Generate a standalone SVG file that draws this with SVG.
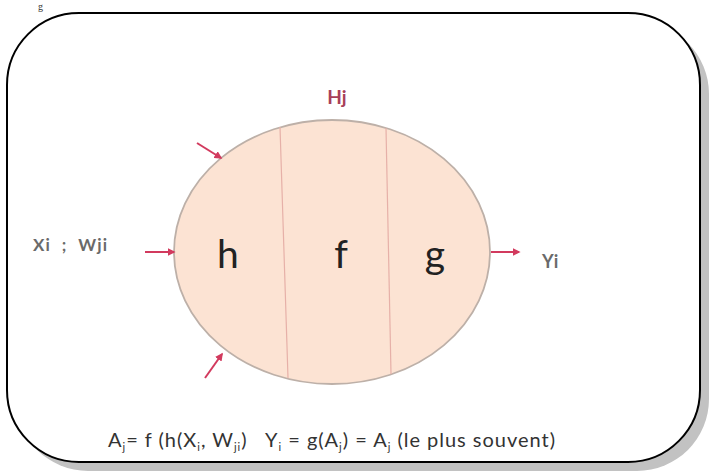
<svg xmlns="http://www.w3.org/2000/svg" width="709" height="472" viewBox="0 0 709 472">
  <defs>
    <style>
      .lbl { font-family: Lato, "Open Sans", "Liberation Sans", sans-serif; fill: #6a6a6a; font-weight: bold; }
      .big { font-family: Lato, "Open Sans", "Liberation Sans", sans-serif; fill: #222; font-size: 39px; text-anchor: middle; }
      .arrow { stroke: #d23a5e; stroke-width: 2; fill: none; marker-end: url(#ah); }
      .div { stroke: #e6b0a8; stroke-width: 1.2; }
    </style>
    <marker id="ah" viewBox="0 0 10 10" refX="8" refY="5" markerWidth="4" markerHeight="4" orient="auto">
      <path d="M0,0 L10,5 L0,10 z" fill="#d23a5e"/>
    </marker>
  </defs>
  <rect width="709" height="472" fill="#fff"/>
  <text x="38" y="10" font-family="Liberation Serif, serif" font-size="10" fill="#333">g</text>
  <g id="frame">
    <rect x="16" y="22" width="693" height="449" rx="72" ry="72" fill="#c2c2c2"/>
    <rect x="7" y="13" width="693" height="449" rx="72" ry="72" fill="#fff" stroke="#000" stroke-width="2"/>
  </g>
  <g id="neuron">
    <ellipse cx="332" cy="252" rx="158" ry="132" fill="#fce3d3" stroke="#bdb0a8" stroke-width="1.8"/>
    <line class="div" x1="280" y1="127" x2="288" y2="378"/>
    <line class="div" x1="386" y1="128" x2="391" y2="374"/>
    <text class="big" x="228" y="268">h</text>
    <text class="big" x="341" y="268">f</text>
    <text class="big" x="435" y="268">g</text>
  </g>
  <g id="label-hj">
    <text x="337" y="104" font-family="Lato, 'Open Sans', 'Liberation Sans', sans-serif" font-size="19" font-weight="bold" fill="#a8405a" text-anchor="middle">Hj</text>
  </g>
  <g id="input-label">
    <text class="lbl" x="33" y="251" font-size="17" textLength="74" lengthAdjust="spacing" xml:space="preserve">Xi  ;  Wji</text>
  </g>
  <g id="output-label">
    <text class="lbl" x="542" y="268" font-size="18">Yi</text>
  </g>
  <g id="connectors">
    <line class="arrow" x1="197" y1="143" x2="221" y2="158"/>
    <line class="arrow" x1="145" y1="252" x2="174" y2="252"/>
    <line class="arrow" x1="205" y1="378" x2="222" y2="354"/>
    <line class="arrow" x1="491" y1="252" x2="519" y2="252"/>
  </g>
  <g id="formula">
    <text x="108" y="447" font-family="Lato, 'Open Sans', 'Liberation Sans', sans-serif" font-size="20" fill="#333" textLength="447" lengthAdjust="spacing" xml:space="preserve">A<tspan font-size="11" dy="4">j</tspan><tspan dy="-4">= f (h(X</tspan><tspan font-size="11" dy="4">i</tspan><tspan dy="-4">, W</tspan><tspan font-size="11" dy="4">ji</tspan><tspan dy="-4">)   Y</tspan><tspan font-size="11" dy="4">i</tspan><tspan dy="-4"> = g(A</tspan><tspan font-size="11" dy="4">j</tspan><tspan dy="-4">) = A</tspan><tspan font-size="11" dy="4">j</tspan><tspan dy="-4"> (le plus souvent)</tspan></text>
  </g>
</svg>
